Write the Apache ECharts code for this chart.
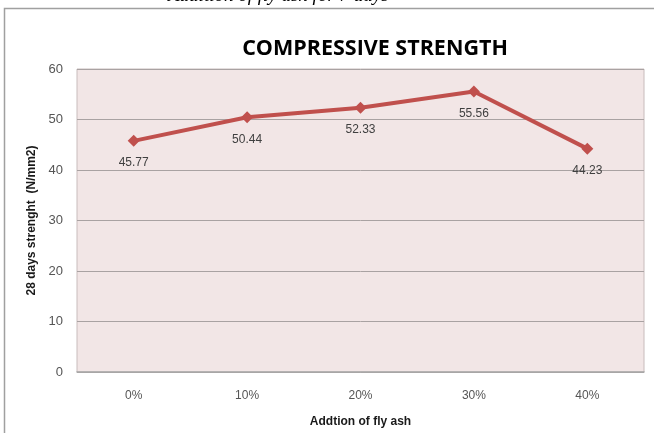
<!DOCTYPE html>
<html>
<head>
<meta charset="utf-8">
<script src="https://cdn.jsdelivr.net/npm/echarts@6/dist/echarts.min.js"></script>
<style>
  html, body { margin: 0; padding: 0; background: #ffffff; }
  #chart { width: 654px; height: 433px; }
</style>
</head>
<body>
<div id="chart"></div>
<script>
// Fly ash content in the mix and the 28-day compressive strength it gives
const categories = ['0%', '10%', '20%', '30%', '40%'];
const strength = [45.77, 50.44, 52.33, 55.56, 44.23];
const yTicks = [0, 10, 20, 30, 40, 50, 60];

const chart = echarts.init(document.getElementById('chart'), null, { renderer: 'canvas' });

chart.setOption({
  animation: false,
  backgroundColor: '#ffffff',
  title: {
    text: 'COMPRESSIVE STRENGTH',
    left: 370,
    textAlign: 'center',
    top: 33,
    textStyle: {
      fontFamily: 'Open Sans, sans-serif',
      fontSize: 21.5,
      fontWeight: 'bold',
      color: '#000000'
    }
  },
  graphic: [
    // caption running above the chart frame
    {
      type: 'text',
      left: 168,
      top: -14,
      style: {
        text: 'Addition of fly ash for 7 days',
        font: 'italic 19px "Liberation Serif", serif',
        fill: '#000000'
      },
      z: 10
    },
    // chart frame
    {
      type: 'polyline',
      shape: { points: [[4.5, 433], [4.5, 8.5], [654, 8.5]] },
      style: { stroke: '#a0a0a0', lineWidth: 1.5, fill: null },
      z: 10
    }
  ],
  grid: {
    left: 77,
    right: 10,
    top: 69,
    bottom: 61,
    show: true,
    backgroundColor: '#f2e6e6',
    borderColor: '#c8bcbc',
    borderWidth: 1
  },
  xAxis: {
    type: 'category',
    data: categories,
    boundaryGap: true,
    name: 'Addtion of fly ash',
    nameLocation: 'middle',
    nameGap: 44,
    nameTextStyle: {
      fontFamily: 'Liberation Sans, Arial, sans-serif',
      fontSize: 12,
      fontWeight: 'bold',
      color: '#1a1a1a'
    },
    axisLine: { show: true, lineStyle: { color: '#a8a8a8', width: 1.5 } },
    axisTick: { show: false },
    axisLabel: {
      margin: 18,
      fontFamily: 'Liberation Sans, Arial, sans-serif',
      fontSize: 12,
      color: '#555555'
    }
  },
  yAxis: {
    type: 'value',
    min: yTicks[0],
    max: yTicks[yTicks.length - 1],
    interval: 10,
    name: '28 days strenght  (N/mm2)',
    nameLocation: 'middle',
    nameGap: 38,
    nameTextStyle: {
      fontFamily: 'Liberation Sans, Arial, sans-serif',
      fontSize: 12,
      fontWeight: 'bold',
      color: '#1a1a1a'
    },
    axisLine: { show: false },
    axisTick: { show: false },
    axisLabel: {
      margin: 14,
      fontFamily: 'Liberation Sans, Arial, sans-serif',
      fontSize: 13,
      color: '#555555'
    },
    splitLine: { show: true, lineStyle: { color: '#a9a2a2', width: 1 } }
  },
  series: [{
    type: 'line',
    data: strength,
    symbol: 'diamond',
    symbolSize: 12,
    lineStyle: { color: '#c0504d', width: 4 },
    itemStyle: { color: '#c0504d' },
    label: {
      show: true,
      position: 'bottom',
      distance: 10,
      fontFamily: 'Liberation Sans, Arial, sans-serif',
      fontSize: 12,
      color: '#404040',
      formatter: p => p.value.toFixed(2)
    }
  }]
});
</script>
</body>
</html>
